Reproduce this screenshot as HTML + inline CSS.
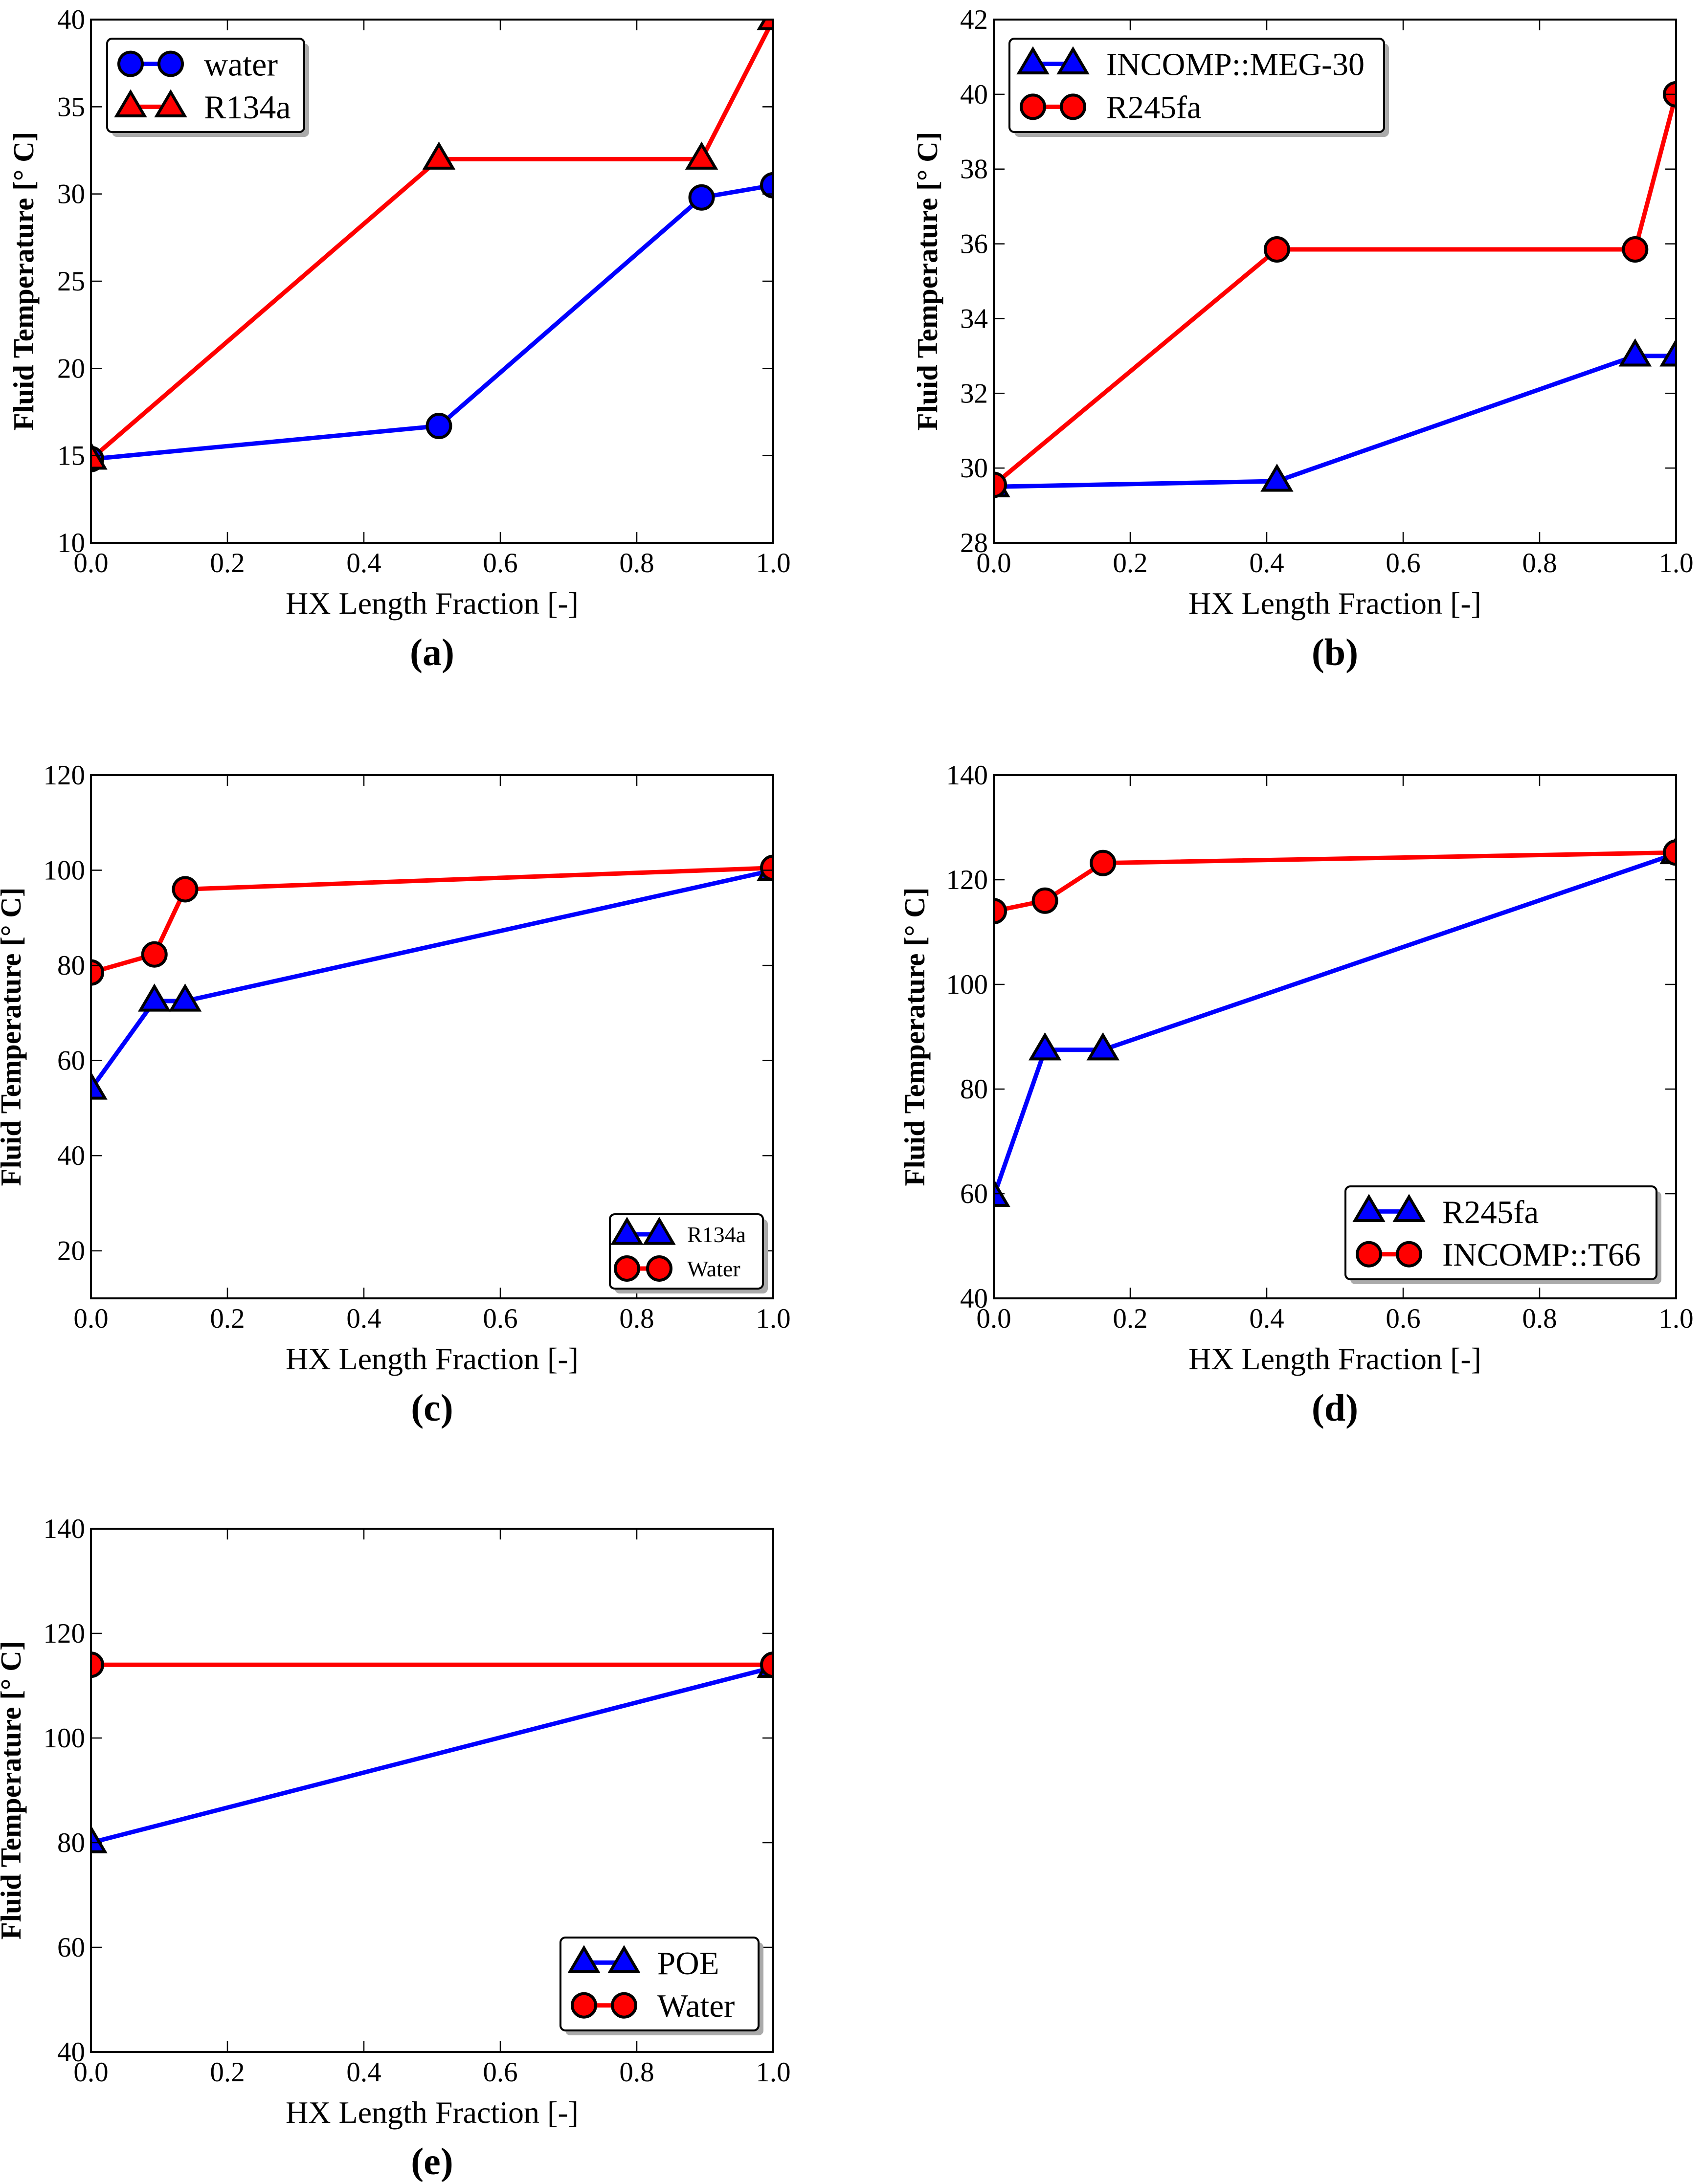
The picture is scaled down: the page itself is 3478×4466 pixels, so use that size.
<!DOCTYPE html>
<html><head><meta charset="utf-8"><style>
html,body{margin:0;padding:0;background:#fff;}
svg text{font-family:"Liberation Serif","DejaVu Serif",serif;}
</style></head><body>
<svg id="fig" width="3478" height="4461" viewBox="0 0 3478 4461" xmlns="http://www.w3.org/2000/svg"></svg>
<script>
// Panel (a)
const aX = [0, 0.51, 0.895, 1.0];
const aWater = [14.8, 16.7, 29.8, 30.5];
const aR134a = [14.8, 32, 32, 40];
const aTicksY = [10, 15, 20, 25, 30, 35, 40];
// Panel (b)
const bX = [0, 0.415, 0.94, 1.0];
const bMEG = [29.5, 29.65, 33, 33];
const bR245 = [29.55, 35.85, 35.85, 40];
const bTicksY = [28, 30, 32, 34, 36, 38, 40, 42];
// Panel (c)
const cX = [0, 0.093, 0.138, 1.0];
const cR134a = [54, 72.5, 72.5, 100];
const cWater = [78.5, 82.3, 96, 100.5];
const cTicksY = [20, 40, 60, 80, 100, 120];
// Panel (d)
const dX = [0, 0.075, 0.16, 1.0];
const dR245 = [59.5, 87.5, 87.5, 125];
const dT66 = [114, 116, 123.2, 125.2];
const dTicksY = [40, 60, 80, 100, 120, 140];
// Panel (e)
const eX = [0, 1.0];
const ePOE = [80, 113.5];
const eWater = [114, 114];
const eTicksY = [40, 60, 80, 100, 120, 140];
const xTicks = [0, 0.2, 0.4, 0.6, 0.8, 1.0];
const xTickLabels = ["0.0", "0.2", "0.4", "0.6", "0.8", "1.0"];

const NS = "http://www.w3.org/2000/svg";
const fig = document.getElementById('fig');
function mk(tag, attrs, parent){
  const e = document.createElementNS(NS, tag);
  for (const k in attrs) e.setAttribute(k, attrs[k]);
  (parent||fig).appendChild(e); return e;
}
function marker(g, kind, cx, cy, color){
  let m;
  if (kind === 'o') {
    m = mk('circle', {cx:cx, cy:cy, r:24, fill:color, stroke:'#000', 'stroke-width':6}, g);
  } else {
    const r = 30;
    m = mk('polygon', {points:`${cx},${cy-r} ${cx-r*0.95},${cy+r*0.62} ${cx+r*0.95},${cy+r*0.62}`, fill:color, stroke:'#000', 'stroke-width':6, 'stroke-linejoin':'miter'}, g);
  }
  
  
}
let clipId = 0;
function panel(p){
  const g = mk('g', {});
  
  
  const L = p.left, R = p.left + 1395, T = p.top, B = p.top + 1070;
  const sx = v => L + v * (R - L);
  const sy = v => B - (v - p.ymin) / (p.ymax - p.ymin) * (B - T);
  const cid = 'clip' + (clipId++);
  const cp = mk('clipPath', {id: cid}, g);
  mk('rect', {x:L, y:T, width:R-L, height:B-T}, cp);
  const sg = mk('g', {'clip-path': `url(#${cid})`}, g);
  p.series.forEach(s => {
    const pts = s.x.map((xv, i) => sx(xv) + ',' + sy(s.y[i])).join(' ');
    const pl = mk('polyline', {points:pts, fill:'none', stroke:s.color, 'stroke-width':9, 'stroke-linejoin':'miter'}, sg);
    
    
  });
  p.series.forEach(s => {
    s.x.forEach((xv, i) => marker(sg, s.kind, sx(xv), sy(s.y[i]), s.color));
  });
  const fr = mk('rect', {x:L, y:T, width:R-L, height:B-T, fill:'none', stroke:'#000', 'stroke-width':4}, g);
  
  
  xTicks.forEach((t, i) => {
    const x = sx(t);
    mk('line', {x1:x, y1:B, x2:x, y2:B-22, stroke:'#000', 'stroke-width':2.5}, g);
    mk('line', {x1:x, y1:T, x2:x, y2:T+22, stroke:'#000', 'stroke-width':2.5}, g);
    const tx = mk('text', {x:x, y:B+60, 'font-size':57, 'text-anchor':'middle'}, g);
    tx.textContent = xTickLabels[i];
    
    
  });
  p.yt.forEach(t => {
    const y = sy(t);
    mk('line', {x1:L, y1:y, x2:L+22, y2:y, stroke:'#000', 'stroke-width':2.5}, g);
    mk('line', {x1:R, y1:y, x2:R-22, y2:y, stroke:'#000', 'stroke-width':2.5}, g);
    const ty = mk('text', {x:L-12, y:y+19, 'font-size':57, 'text-anchor':'end'}, g);
    ty.textContent = String(t);
    
    
  });
  const xl = mk('text', {x:(L+R)/2, y:B+145, 'font-size':64, 'text-anchor':'middle'}, g);
  xl.textContent = 'HX Length Fraction [-]';
  
  
  const ylx = p.ylx;
  const yl = mk('text', {x:ylx, y:(T+B)/2, 'font-size':59, 'text-anchor':'middle', 'font-weight':'bold', transform:`rotate(-90 ${ylx} ${(T+B)/2})`}, g);
  yl.textContent = 'Fluid Temperature [° C]';
  
  
  const pl = mk('text', {x:(L+R)/2, y:B+250, 'font-size':78, 'text-anchor':'middle', 'font-weight':'bold'}, g);
  pl.textContent = '(' + p.id + ')';
  
  
  const lg = p.leg;
  const lgG = mk('g', {}, g);
  
  
  mk('rect', {x:lg.x+10, y:lg.y+10, width:lg.w, height:lg.h, rx:10, fill:'#aaa'}, lgG);
  mk('rect', {x:lg.x, y:lg.y, width:lg.w, height:lg.h, rx:10, fill:'#fff', stroke:'#000', 'stroke-width':4}, lgG);
  p.series.forEach((s, i) => {
    const ey = lg.y + lg.h * (i === 0 ? 0.27 : 0.73);
    const x1 = lg.x + lg.m1, x2 = lg.x + lg.m2;
    mk('line', {x1:x1, y1:ey, x2:x2, y2:ey, stroke:s.color, 'stroke-width':9}, lgG);
    marker(lgG, s.kind, x1, ey, s.color);
    marker(lgG, s.kind, x2, ey, s.color);
    const t = mk('text', {x:lg.x + lg.tx, y:ey + lg.fs*0.35, 'font-size':lg.fs}, lgG);
    t.textContent = s.name;
    
    
  });
}
panel({id:'a', left:186, top:40, ymin:10, ymax:40, yt:aTicksY, ylx:68,
  series:[{name:'water', x:aX, y:aWater, color:'#0000ff', kind:'o'},
          {name:'R134a', x:aX, y:aR134a, color:'#ff0000', kind:'^'}],
  leg:{x:219, y:79, w:403, h:191, fs:68, tx:198, m1:48, m2:130}});
panel({id:'b', left:2032, top:40, ymin:28, ymax:42, yt:bTicksY, ylx:1916,
  series:[{name:'INCOMP::MEG-30', x:bX, y:bMEG, color:'#0000ff', kind:'^'},
          {name:'R245fa', x:bX, y:bR245, color:'#ff0000', kind:'o'}],
  leg:{x:2064, y:79, w:766, h:191, fs:66, tx:198, m1:48, m2:130}});
panel({id:'c', left:186, top:1585, ymin:10, ymax:120, yt:cTicksY, ylx:42,
  series:[{name:'R134a', x:cX, y:cR134a, color:'#0000ff', kind:'^'},
          {name:'Water', x:cX, y:cWater, color:'#ff0000', kind:'o'}],
  leg:{x:1247, y:2483, w:313, h:152, fs:46, tx:158, m1:35, m2:101}});
panel({id:'d', left:2032, top:1585, ymin:40, ymax:140, yt:dTicksY, ylx:1890,
  series:[{name:'R245fa', x:dX, y:dR245, color:'#0000ff', kind:'^'},
          {name:'INCOMP::T66', x:dX, y:dT66, color:'#ff0000', kind:'o'}],
  leg:{x:2751, y:2426, w:636, h:190, fs:67, tx:198, m1:48, m2:130}});
panel({id:'e', left:186, top:3126, ymin:40, ymax:140, yt:eTicksY, ylx:42,
  series:[{name:'POE', x:eX, y:ePOE, color:'#0000ff', kind:'^'},
          {name:'Water', x:eX, y:eWater, color:'#ff0000', kind:'o'}],
  leg:{x:1146, y:3962, w:405, h:190, fs:67, tx:198, m1:48, m2:130}});
</script>
</body></html>
